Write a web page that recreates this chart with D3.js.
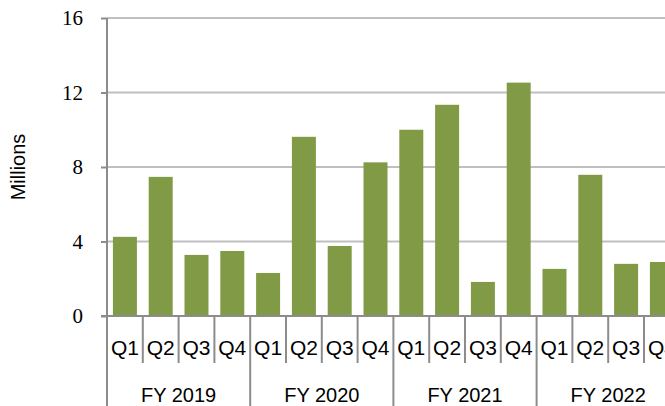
<!DOCTYPE html>
<html>
<head>
<meta charset="utf-8">
<script src="https://cdn.jsdelivr.net/npm/d3@7"></script>
<style>
  html, body { margin: 0; padding: 0; background: #fff; overflow: hidden; }
  svg { display: block; }
</style>
</head>
<body>
<svg id="chart" width="665" height="406"></svg>
<script>
// data
var years = ["FY 2019", "FY 2020", "FY 2021", "FY 2022"];
var quarters = ["Q1", "Q2", "Q3", "Q4"];
var values = [
  4.25, 7.47, 3.28, 3.49,
  2.31, 9.62, 3.76, 8.25,
  10.0, 11.34, 1.83, 12.53,
  2.53, 7.58, 2.80, 2.90
];
var yTicks = [0, 4, 8, 12, 16];
var yTitle = "Millions";

var rows = [];
years.forEach(function (yr, i) {
  quarters.forEach(function (q, j) {
    rows.push({ year: yr, quarter: q, key: yr + "|" + q, value: values[i * 4 + j] });
  });
});

var svg = d3.select("#chart");
var plotLeft = 107, plotTop = 18, plotBottom = 316;
var step = 35.8;
var plotRight = plotLeft + step * rows.length; // runs past the window edge, like the reference

var x = d3.scaleBand()
  .domain(rows.map(function (d) { return d.key; }))
  .range([plotLeft, plotRight])
  .paddingInner(0.33)
  .paddingOuter(0.165);

var y = d3.scaleLinear().domain([0, 16]).range([plotBottom, plotTop]);

// gridlines
svg.append("g")
  .selectAll("line")
  .data(yTicks.filter(function (t) { return t > 0; }))
  .enter().append("line")
  .attr("x1", plotLeft).attr("x2", 665)
  .attr("y1", function (d) { return y(d); })
  .attr("y2", function (d) { return y(d); })
  .attr("stroke", "#bfbfbf")
  .attr("stroke-width", 2);

// bars
svg.append("g")
  .selectAll("rect")
  .data(rows)
  .enter().append("rect")
  .attr("x", function (d) { return x(d.key); })
  .attr("width", x.bandwidth())
  .attr("y", function (d) { return y(d.value); })
  .attr("height", function (d) { return y(0) - y(d.value); })
  .attr("fill", "#809a46");

// y axis
var yAxis = svg.append("g")
  .attr("transform", "translate(" + plotLeft + ",0)")
  .call(d3.axisLeft(y).tickValues(yTicks).tickSize(6).tickPadding(18).tickSizeOuter(0));
yAxis.select(".domain").remove();
yAxis.selectAll(".tick line").attr("stroke", "#8c8c8c").attr("stroke-width", 2);
yAxis.selectAll(".tick text")
  .attr("fill", "#000")
  .style("font-family", "'Liberation Serif', 'Times New Roman', serif")
  .style("font-size", "21px");

svg.append("line")
  .attr("x1", plotLeft).attr("x2", plotLeft)
  .attr("y1", plotTop).attr("y2", 406)
  .attr("stroke", "#8c8c8c").attr("stroke-width", 2);

// x axis baseline
svg.append("line")
  .attr("x1", plotLeft - 6).attr("x2", 665)
  .attr("y1", y(0)).attr("y2", y(0))
  .attr("stroke", "#8c8c8c").attr("stroke-width", 2);

// separators between categories
var bounds = d3.range(1, rows.length + 1).map(function (i) { return plotLeft + i * x.step(); });
svg.append("g")
  .selectAll("line")
  .data(bounds)
  .enter().append("line")
  .attr("x1", function (d) { return d; })
  .attr("x2", function (d) { return d; })
  .attr("y1", y(0))
  .attr("y2", function (d, i) { return (i + 1) % 4 === 0 ? 406 : 363; })
  .attr("stroke", "#8c8c8c").attr("stroke-width", 2);

var sans = "'Liberation Sans', Arial, sans-serif";

// quarter labels
svg.append("g")
  .selectAll("text")
  .data(rows)
  .enter().append("text")
  .attr("x", function (d) { return x(d.key) + x.bandwidth() / 2; })
  .attr("y", 355)
  .attr("text-anchor", "middle")
  .style("font-family", sans)
  .style("font-size", "21px")
  .text(function (d) { return d.quarter; });

// fiscal year labels
svg.append("g")
  .selectAll("text")
  .data(years)
  .enter().append("text")
  .attr("x", function (d, i) { return plotLeft + (i * 4 + 2) * x.step(); })
  .attr("y", 402)
  .attr("text-anchor", "middle")
  .style("font-family", sans)
  .style("font-size", "20px")
  .text(function (d) { return d; });

// y title
svg.append("text")
  .attr("transform", "translate(25,167) rotate(-90)")
  .attr("text-anchor", "middle")
  .style("font-family", sans)
  .style("font-size", "20px")
  .text(yTitle);
</script>
</body>
</html>
